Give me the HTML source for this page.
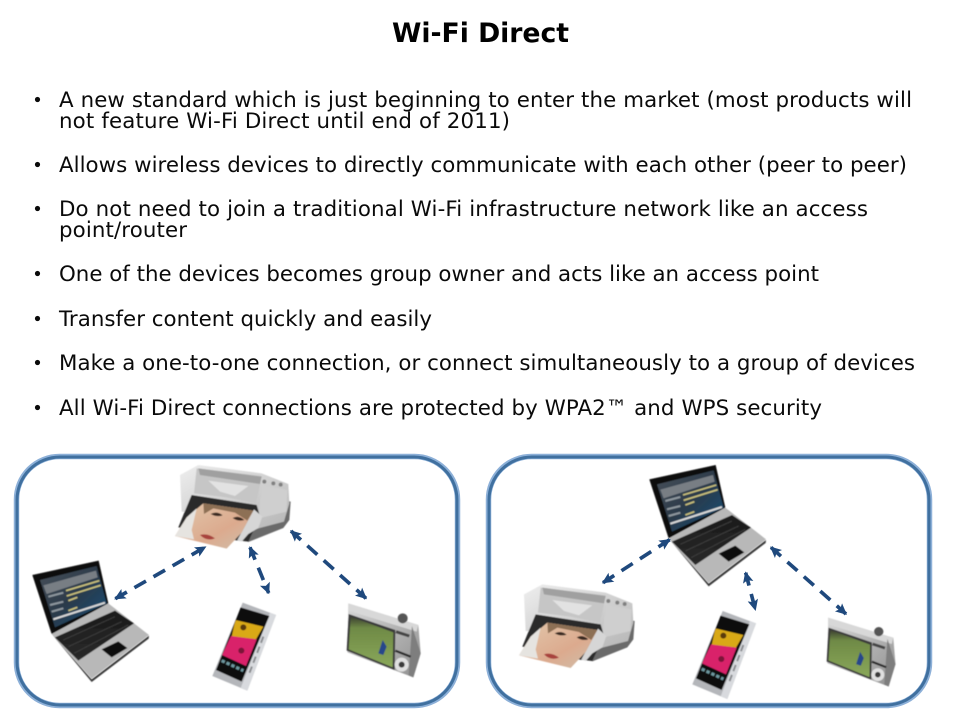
<!DOCTYPE html>
<html lang="en"><head><meta charset="utf-8"><title>Wi-Fi Direct</title>
<style>
html,body{margin:0;padding:0;background:#fff;width:960px;height:720px;overflow:hidden}
svg{display:block}
.b{font:21.33px "DejaVu Sans",sans-serif;fill:#0a0a0a}
.t{font:bold 26.67px "DejaVu Sans",sans-serif;fill:#000}
</style></head><body>
<svg width="960" height="720" viewBox="0 0 960 720" xmlns="http://www.w3.org/2000/svg">
<defs>
<filter id="s" x="-5%" y="-5%" width="110%" height="110%"><feGaussianBlur stdDeviation="1.5"/></filter>
<linearGradient id="scr" x1="0" y1="0" x2="1" y2="1"><stop offset="0" stop-color="#4a525a"/><stop offset=".5" stop-color="#2b3a4a"/><stop offset="1" stop-color="#12507c"/></linearGradient>
<linearGradient id="sil" x1="0" y1="0" x2="1" y2="1"><stop offset="0" stop-color="#eeeeee"/><stop offset="1" stop-color="#b4b4b4"/></linearGradient>
<linearGradient id="cam" x1="0" y1="0" x2="1" y2="1"><stop offset="0" stop-color="#d8d8d8"/><stop offset="1" stop-color="#8f8f8f"/></linearGradient>
<linearGradient id="skin" x1="0" y1="0" x2="1" y2="1"><stop offset="0" stop-color="#e2c8ac"/><stop offset=".6" stop-color="#dcaa8e"/><stop offset="1" stop-color="#cfc0ac"/></linearGradient>
<linearGradient id="grn" x1="0" y1="0" x2="0" y2="1"><stop offset="0" stop-color="#3c4030"/><stop offset=".22" stop-color="#6f8a46"/><stop offset="1" stop-color="#8aa85a"/></linearGradient>
<linearGradient id="key" x1="0" y1="0" x2="0" y2="1"><stop offset="0" stop-color="#1a1a1a"/><stop offset="1" stop-color="#2a2a2a"/></linearGradient>
<clipPath id="pc"><path d="M712 530L808 552L722 722L648 690Z"/></clipPath>
<marker id="ah" markerUnits="userSpaceOnUse" markerWidth="40" markerHeight="36" refX="30" refY="17" orient="auto-start-reverse"><path d="M0 1L34 17L0 33L7 17Z" fill="#1f497d"/></marker>

<g id="printer" filter="url(#s)">
<path d="M850 180L872 185L868 240L850 264L760 300L745 306L725 290Z" fill="#6a6a6a"/>
<path d="M540 105L595 75L785 100L865 132L868 190L852 245L775 265L745 275L640 230L545 215Z" fill="url(#sil)"/>
<path d="M590 85L785 108L778 145L768 190L680 172L582 160Z" fill="#c6c6c6"/>
<path d="M595 85L785 110L780 132L600 105Z" fill="#a0a0a0"/>
<path d="M625 122L745 138L705 168L660 155Z" fill="#e2e2e2"/>
<path d="M785 135L862 150L860 215L775 235Z" fill="#cfcfcf"/>
<circle cx="793" cy="125" r="6" fill="#808080"/><circle cx="820" cy="130" r="6" fill="#808080"/><circle cx="842" cy="134" r="6" fill="#808080"/>
<path d="M575 165L770 195L780 230L745 305L700 300L535 262L550 225Z" fill="#2b2b2b"/>
<path d="M762 208L787 230L775 264L745 282L725 305L712 300Z" fill="#d6d6d6"/>
<path d="M610 190L760 212L725 278L680 326L525 288L560 232Z" fill="url(#skin)"/>
<path d="M610 190L760 212L742 242L705 218L640 205L612 222Z" fill="#8d6f55"/>
<path d="M632 222Q650 212 668 226Q650 232 632 222Z" fill="#3a2c22"/>
<path d="M698 234Q716 224 733 240Q715 246 698 234Z" fill="#3a2c22"/>
<path d="M600 285Q622 278 645 295Q620 305 600 285Z" fill="#a8423c"/>
<path d="M525 288L560 232L590 205L575 270L582 298Z" fill="#e6e4e0"/>
</g>

<g id="laptop" filter="url(#s)">
<path d="M155 582L325 490L447 585L275 716Z" fill="#b8b8b8"/>
<path d="M155 582L275 718L447 587L446 596L275 726Z" fill="#3a3a3a"/>
<path d="M97 405L296 362L325 490L155 582Z" fill="#0a0a0a"/>
<path d="M120 420L290 378L320 490L165 562Z" fill="url(#scr)"/>
<path d="M130 436L288 392L293 412L140 462Z" fill="#787e84"/>
<path d="M198 452L298 422M200 468L302 436M205 482L232 472M205 512L232 502" stroke="#c9c07c" stroke-width="5"/>
<path d="M145 470L190 458M150 495L190 485M155 515L190 505" stroke="#8e979e" stroke-width="6"/>
<path d="M160 538L315 488" stroke="#d8d8d8" stroke-width="6"/>
<path d="M165 592L345 512L402 550L235 662Z" fill="url(#key)"/>
<path d="M190 600L345 530M205 620L365 545M222 640L385 555" stroke="#3c3c3c" stroke-width="3"/>
<path d="M305 628L355 604L382 624L335 652Z" fill="#0c0c0c"/>
</g>

<g id="phone" filter="url(#s)">
<path d="M728 488L828 525L742 752L637 708Z" fill="#b4b6ba"/>
<path d="M810 518L828 525L742 752L722 744Z" fill="#d8dade"/>
<path d="M790 590L748 700" stroke="#8a8c90" stroke-width="6" stroke-dasharray="20 12"/>
<path d="M722 502L808 528L725 725L648 690Z" fill="#0e0e0e"/>
<g clip-path="url(#pc)">
<path d="M706 540L790 560L768 598L695 590Z" fill="#d9a916"/>
<circle cx="730" cy="562" r="9" fill="#5a3a10"/>
<path d="M693 588L770 598L738 678L666 645Z" fill="#d9246a"/>
<circle cx="724" cy="632" r="9" fill="#7a1238"/>
<path d="M665 662L730 692" stroke="#6e98a0" stroke-width="9" stroke-dasharray="10 6"/>
</g>
</g>

<g id="camera" filter="url(#s)">
<path d="M1045 490L1255 555L1262 640L1240 712L1042 637Z" fill="url(#cam)"/>
<path d="M1045 490L1255 555L1250 575L1045 512Z" fill="#d8d8d8"/>
<path d="M1236 558L1262 640L1240 712L1226 706Z" fill="#7e7e7e"/>
<path d="M1046 522L1186 570L1184 690L1040 632Z" fill="#3a3a3a"/>
<path d="M1052 530L1180 577L1178 682L1046 628Z" fill="url(#grn)"/>
<path d="M1148 600L1160 620L1150 645L1135 640Z" fill="#27468a"/>
<circle cx="1208" cy="535" r="15" fill="#555"/>
<path d="M1188 575L1228 588" stroke="#444" stroke-width="9"/>
<path d="M1186 632L1232 650" stroke="#2c2c2c" stroke-width="7"/>
<circle cx="1205" cy="674" r="21" fill="#e0e0e0"/><circle cx="1205" cy="674" r="9" fill="#3a3a3a"/>
</g>
</defs>

<text class="t" x="392" y="42" textLength="177" lengthAdjust="spacing">Wi-Fi Direct</text>

<g fill="#0a0a0a">
<circle cx="37.5" cy="99.5" r="2.6"/><circle cx="37.5" cy="164.5" r="2.6"/><circle cx="37.5" cy="208.5" r="2.6"/><circle cx="37.5" cy="273.5" r="2.6"/><circle cx="37.5" cy="318.5" r="2.6"/><circle cx="37.5" cy="362.5" r="2.6"/><circle cx="37.5" cy="407.5" r="2.6"/>
</g>
<text class="b" x="59" y="107" textLength="853" lengthAdjust="spacing">A new standard which is just beginning to enter the market (most products will</text>
<text class="b" x="59" y="128" textLength="451" lengthAdjust="spacing">not feature Wi-Fi Direct until end of 2011)</text>
<text class="b" x="59" y="172" textLength="848" lengthAdjust="spacing">Allows wireless devices to directly communicate with each other (peer to peer)</text>
<text class="b" x="59" y="216" textLength="809" lengthAdjust="spacing">Do not need to join a traditional Wi-Fi infrastructure network like an access</text>
<text class="b" x="59" y="237" textLength="128" lengthAdjust="spacing">point/router</text>
<text class="b" x="59" y="281" textLength="760" lengthAdjust="spacing">One of the devices becomes group owner and acts like an access point</text>
<text class="b" x="59" y="326" textLength="373" lengthAdjust="spacing">Transfer content quickly and easily</text>
<text class="b" x="59" y="370" textLength="856" lengthAdjust="spacing">Make a one-to-one connection, or connect simultaneously to a group of devices</text>
<text class="b" x="59" y="415" textLength="763" lengthAdjust="spacing">All Wi-Fi Direct connections are protected by WPA2™ and WPS security</text>

<rect x="16.5" y="456.5" width="441" height="249" rx="43" fill="#fff" stroke="#8db0d8" stroke-width="5.5"/>
<rect x="17" y="457" width="440" height="248" rx="43" fill="none" stroke="#40709f" stroke-width="3"/>
<rect x="488.5" y="456.5" width="441" height="249" rx="43" fill="#fff" stroke="#8db0d8" stroke-width="5.5"/>
<rect x="489" y="457" width="440" height="248" rx="43" fill="none" stroke="#40709f" stroke-width="3"/>

<g transform="scale(.33333) translate(0,1320)">
<use href="#printer"/><use href="#laptop"/><use href="#phone"/><use href="#camera"/>
<g stroke="#1f497d" stroke-width="11" fill="none" stroke-dasharray="40 26">
<path d="M346 476L616 321" marker-start="url(#ah)" marker-end="url(#ah)"/>
<path d="M750 322L806 459" marker-start="url(#ah)" marker-end="url(#ah)"/>
<path d="M873 273L1098 475" marker-start="url(#ah)" marker-end="url(#ah)"/>
</g>
</g>
<g transform="scale(.33333) translate(1440,1320)">
<use href="#printer" transform="translate(-408,358)"/>
<use href="#laptop" transform="translate(411,-287)"/>
<use href="#phone" transform="translate(0,25)"/>
<use href="#camera" transform="translate(1040,533) scale(.93) translate(-1040,-490)"/>
<g stroke="#1f497d" stroke-width="11" fill="none" stroke-dasharray="40 26">
<path d="M369 428L569 299" marker-start="url(#ah)" marker-end="url(#ah)"/>
<path d="M797 398L826 509" marker-start="url(#ah)" marker-end="url(#ah)"/>
<path d="M873 322L1098 522" marker-start="url(#ah)" marker-end="url(#ah)"/>
</g>
</g>
</svg>
</body></html>
